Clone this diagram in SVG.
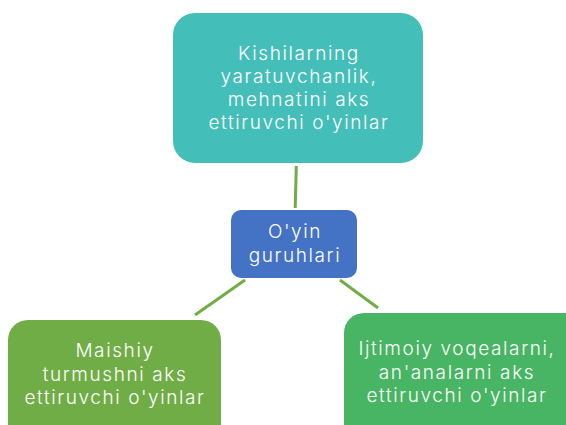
<svg xmlns="http://www.w3.org/2000/svg" width="566" height="425" viewBox="0 0 566 425">
<style>
.t{font-family:Inter,"DejaVu Sans",sans-serif;font-weight:300;font-size:19px;letter-spacing:1.6px;fill:#ffffff;text-anchor:middle}
.c{stroke:#70AD47;stroke-width:3;fill:none}
</style>
<rect width="566" height="425" fill="#ffffff"/>
<g id="connectors">
<line class="c" x1="296.3" y1="166" x2="295.2" y2="208"/>
<line class="c" x1="245" y1="280" x2="195" y2="315"/>
<line class="c" x1="340" y1="280" x2="378" y2="308"/>
</g>
<g id="top">
<rect x="173" y="13" width="250" height="150" rx="22" fill="#44BEB8"/>
<text class="t" x="299" y="60">Kishilarning</text>
<text class="t" x="299" y="83">yaratuvchanlik,</text>
<text class="t" x="299" y="106">mehnatini aks</text>
<text class="t" x="299" y="129">ettiruvchi o'yinlar</text>
</g>
<g id="center">
<rect x="231" y="210" width="126" height="68" rx="10" fill="#4472C4"/>
<text class="t" x="295" y="238">O'yin</text>
<text class="t" x="295" y="262">guruhlari</text>
</g>
<g id="left">
<rect x="8" y="320" width="213" height="130" rx="20" fill="#70AD47"/>
<text class="t" x="115" y="357">Maishiy</text>
<text class="t" x="115" y="381">turmushni aks</text>
<text class="t" x="115" y="404">ettiruvchi o'yinlar</text>
</g>
<g id="right">
<rect x="344" y="313" width="240" height="140" rx="20" fill="#47B563"/>
<text class="t" x="457" y="355">Ijtimoiy voqealarni,</text>
<text class="t" x="457" y="379">an'analarni aks</text>
<text class="t" x="457" y="402">ettiruvchi o'yinlar</text>
</g>
</svg>
